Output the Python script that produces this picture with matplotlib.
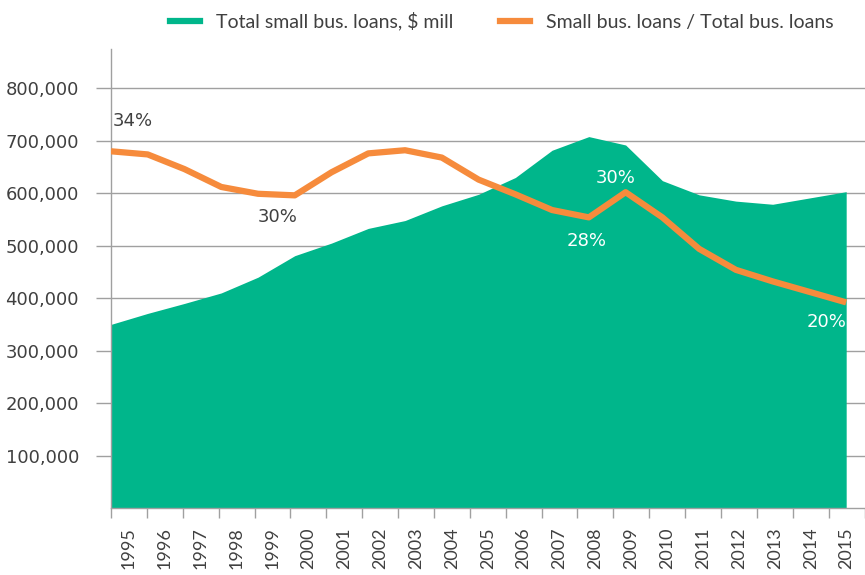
import numpy as np
import matplotlib
matplotlib.use("Agg")
import matplotlib.pyplot as plt
from matplotlib.ticker import FuncFormatter, FixedLocator
from matplotlib.lines import Line2D

years = list(range(1995, 2016))
small_loans = [350000, 371000, 390000, 410000, 440000, 481000, 505000, 533000, 548000,
               576000, 598000, 630000, 682000, 708000, 692000, 624000, 597000, 585000,
               579000, 591000, 603000]
share_pct = [34.0, 33.7, 32.3, 30.6, 29.95, 29.8, 32.0, 33.8, 34.1, 33.4, 31.3, 29.9,
             28.4, 27.7, 30.1, 27.7, 24.7, 22.7, 21.6, 20.6, 19.6]
yticks = [100000, 200000, 300000, 400000, 500000, 600000, 700000, 800000]
labels = {1995: "34%", 1999: "30%", 2008: "28%", 2009: "30%", 2015: "20%"}

GREEN = "#00B68B"
ORANGE = "#F68B3C"
TXT = "#404040"
GRID = "#a0a0a0"

plt.rcParams['font.family'] = ['DejaVu Sans']

fig = plt.figure(figsize=(8.65, 5.75), dpi=100)
ax = fig.add_axes([0.1283, 0.1165, 0.8712, 0.7983])

n = len(years)
x = np.arange(n)
ax.fill_between(x, small_loans, 0, color=GREEN, lw=0, zorder=2)
ax.set_xlim(0, n - 0.5)
ax.set_ylim(0, 875000)

ax.set_yticks(yticks)
ax.yaxis.set_major_formatter(FuncFormatter(lambda v, p: f"{int(v):,}"))
ax.yaxis.grid(True, color=GRID, lw=1)
ax.set_axisbelow(True)
ax.tick_params(axis='y', length=11, width=1, color=GRID, pad=12, labelsize=13, labelcolor=TXT)

slot = (n - 0.5) / n
ax.xaxis.set_major_locator(FixedLocator([(k + 0.5) * slot for k in range(n)]))
ax.set_xticklabels([str(y) for y in years], rotation=90, color=TXT,
                   fontdict={'family': 'Lato', 'size': 13})
ax.xaxis.set_minor_locator(FixedLocator([k * slot for k in range(n + 1)]))
ax.tick_params(axis='x', which='major', length=0, pad=14)
ax.tick_params(axis='x', which='minor', length=7, width=1, color=GRID)

for s in ['top', 'right']:
    ax.spines[s].set_visible(False)
for s in ['left', 'bottom']:
    ax.spines[s].set_color(GRID)
    ax.spines[s].set_linewidth(1)

ax2 = ax.twinx()
ax2.set_ylim(0, 43.75)
ax2.plot(x, share_pct, color=ORANGE, lw=4.5, solid_capstyle='butt', zorder=3)
ax2.axis('off')

offsets = {1995: (16, 22, TXT), 1999: (14, -17, TXT), 2008: (-1.5, -17, 'white'),
           2009: (-7, 10, 'white'), 2015: (-14, -14, 'white')}
for yr, txt in labels.items():
    i = years.index(yr)
    dx, dy, c = offsets[yr]
    ax2.annotate(txt, (x[i], share_pct[i]), xytext=(dx, dy), textcoords='offset points',
                 ha='center', va='center', fontsize=13, color=c, zorder=5)

handles = [Line2D([0], [0], color=GREEN, lw=4.5), Line2D([0], [0], color=ORANGE, lw=4.5)]
leg = fig.legend(handles, ["Total small bus. loans, $ mill", "Small bus. loans / Total bus. loans"],
                 loc='center', bbox_to_anchor=(0.58, 0.963), ncol=2, frameon=False,
                 handlelength=1.55, columnspacing=2.4, handletextpad=0.8,
                 prop={'family': 'Lato', 'size': 14.0})
for t in leg.get_texts():
    t.set_color(TXT)

fig.savefig("out.png", dpi=100)
